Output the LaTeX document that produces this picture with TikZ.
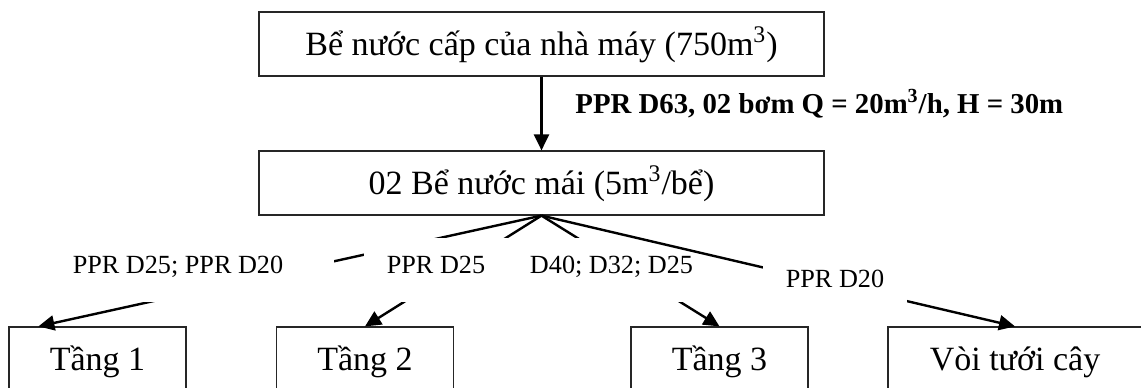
\documentclass[tikz,border=0pt]{standalone}
\usepackage{fontspec}
\setmainfont{Liberation Serif}
\usetikzlibrary{arrows.meta,calc}

\begin{document}
\begin{tikzpicture}[x=0.5pt, y=-0.5pt,
  tank/.style={draw=black!85, line width=0.6pt, minimum height=32pt, inner sep=0pt,
    font=\fontsize{17pt}{20pt}\selectfont, text height=13pt, text depth=2pt},
  pipe/.style={fill=white, inner sep=0pt, minimum height=32pt,
    font=\fontsize{13.1pt}{16pt}\selectfont, text height=9pt, text depth=6pt},
  flow/.style={line width=1.2pt, -{Triangle[width=7.5pt,length=8pt]}}]
  \useasboundingbox (0,0) rectangle (1141,387);

  % tanks
  \node[tank, minimum width=282.5pt] (cap) at (541.5,44) {Bể nước cấp của nhà máy (750m\textsuperscript{3})};
  \node[tank, minimum width=282.5pt] (mai) at (541.5,183) {02 Bể nước mái (5m\textsuperscript{3}/bể)};

  % consumers
  \node[tank, minimum width=88.5pt] (t1) at (97.5,359) {Tầng 1};
  \node[tank, minimum width=88.5pt] (t2) at (365,359) {Tầng 2};
  \node[tank, minimum width=88.5pt] (t3) at (719.5,359) {Tầng 3};
  \node[tank, minimum width=127pt] (voi) at (1015,359) {Vòi tưới cây};

  % pump line
  \draw[flow] (cap) -- (mai);
  \node[font=\fontsize{14.4pt}{17pt}\selectfont\bfseries, anchor=base west, inner sep=0pt]
    (bom) at (575,113) {PPR D63, 02 bơm Q = 20m\textsuperscript{3}/h, H = 30m};

  % distribution, the pipe labels sit on white and cut the lines
  \draw[flow] (mai.south) -- ($(t1.north west)+(30,0)$);
  \draw[flow] (mai.south) -- (t2.north);
  \draw[flow] (mai.south) -- (t3.north);
  \node[pipe, minimum width=156pt] (d1) at (178,270) {PPR D25; PPR D20};
  \node[pipe, minimum width=72pt] (d2) at (436,270) {PPR D25};
  \node[pipe, minimum width=91.5pt] (d3) at (611.5,270) {D40; D32; D25};
  \draw[flow] (mai.south) -- (voi.north);
  \node[pipe, minimum width=72pt, minimum height=22pt] (d4) at (835,284) {PPR D20};
\end{tikzpicture}
\end{document}
